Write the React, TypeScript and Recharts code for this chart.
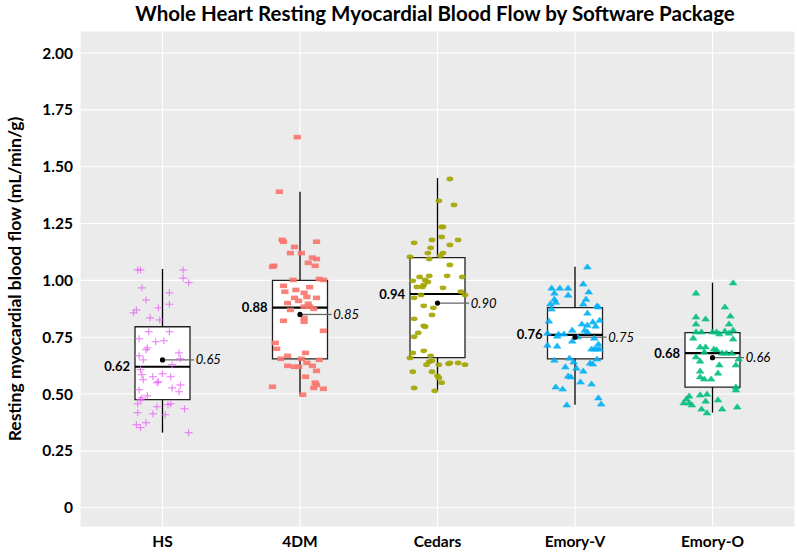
import React from "react";
import {
  ScatterChart,
  Scatter,
  XAxis,
  YAxis,
  CartesianGrid,
  ReferenceArea,
  ReferenceLine,
  ReferenceDot,
} from "recharts";

const FONT = "Lato, 'Open Sans', sans-serif";

const categories = ["HS", "4DM", "Cedars", "Emory-V", "Emory-O"];
const colors = ["#E76BF3", "#F8766D", "#A3A500", "#00B0F6", "#00BF7D"];
const yTicks = [0, 0.25, 0.5, 0.75, 1.0, 1.25, 1.5, 1.75, 2.0];

// box statistics
const medians = [0.62, 0.88, 0.94, 0.76, 0.68];
const means = [0.65, 0.85, 0.9, 0.75, 0.66];
const q1 = [0.475, 0.655, 0.66, 0.655, 0.53];
const q3 = [0.796, 1.0, 1.1, 0.88, 0.77];
const whiskerLow = [0.33, 0.497, 0.514, 0.453, 0.418];
const whiskerHigh = [1.05, 1.39, 1.45, 1.06, 0.99];

// jittered points: [horizontal jitter (category units), value]
const hsPoints: [number, number][] = [
  [-0.18, 1.046], [-0.16, 1.046], [0.15, 1.046], [0.15, 1.01], [0.19, 0.99],
  [-0.15, 0.967], [0.05, 0.945], [-0.12, 0.914], [0.05, 0.895], [-0.19, 0.87],
  [-0.21, 0.857], [-0.03, 0.879], [-0.09, 0.835], [-0.02, 0.826], [-0.1, 0.774],
  [0.05, 0.774], [-0.17, 0.743], [-0.05, 0.73], [0.01, 0.734], [-0.11, 0.703],
  [-0.12, 0.695], [0.12, 0.681], [-0.17, 0.668], [-0.14, 0.65], [0.13, 0.655],
  [0.07, 0.629], [-0.16, 0.607], [-0.15, 0.585], [-0.07, 0.576], [0.0, 0.589],
  [0.06, 0.576], [-0.04, 0.55], [-0.03, 0.554], [-0.14, 0.563], [0.07, 0.527],
  [0.13, 0.54], [0.12, 0.51], [-0.17, 0.519], [-0.16, 0.475], [-0.11, 0.492],
  [-0.15, 0.483], [-0.18, 0.457], [-0.04, 0.444], [0.04, 0.453], [0.06, 0.457],
  [0.16, 0.435], [-0.18, 0.418], [-0.07, 0.413], [0.02, 0.409], [-0.19, 0.365],
  [-0.12, 0.374], [-0.16, 0.352], [0.19, 0.33],
];
const fourDmPoints: [number, number][] = [
  [-0.02, 1.63], [-0.15, 1.39], [-0.13, 1.178], [-0.12, 1.17], [0.12, 1.17],
  [-0.04, 1.147], [-0.07, 1.12], [0.01, 1.12], [0.09, 1.1], [0.12, 1.094],
  [0.06, 1.077], [-0.19, 1.064], [-0.2, 1.06], [0.11, 1.064], [-0.05, 1.002],
  [0.14, 1.006], [0.17, 1.002], [-0.12, 0.976], [0.07, 0.97], [-0.11, 0.95],
  [-0.03, 0.958], [0.03, 0.945], [-0.04, 0.923], [0.05, 0.927], [0.12, 0.923],
  [-0.01, 0.91], [-0.09, 0.9], [0.06, 0.897], [0.03, 0.884], [0.07, 0.884],
  [-0.07, 0.87], [0.1, 0.875], [0.03, 0.835], [0.03, 0.818], [-0.12, 0.822],
  [0.17, 0.778], [-0.18, 0.725], [-0.17, 0.699], [0.04, 0.681], [-0.09, 0.668],
  [-0.14, 0.655], [0.01, 0.655], [0.14, 0.65], [0.05, 0.637], [0.09, 0.624],
  [-0.09, 0.624], [-0.04, 0.62], [-0.01, 0.62], [0.12, 0.602], [0.04, 0.576],
  [0.11, 0.55], [0.12, 0.54], [0.1, 0.527], [0.17, 0.523], [-0.2, 0.532],
  [0.02, 0.497],
];
const cedarsPoints: [number, number][] = [
  [0.09, 1.446], [0.01, 1.35], [0.12, 1.332], [0.03, 1.235], [0.04, 1.235],
  [0.03, 1.191], [-0.17, 1.165], [-0.04, 1.178], [0.15, 1.178], [0.09, 1.156],
  [-0.05, 1.143], [-0.07, 1.12], [0.04, 1.12], [0.02, 1.108], [-0.2, 1.103],
  [-0.06, 1.094], [0.09, 1.068], [0.07, 1.02], [0.18, 1.015], [-0.13, 1.015],
  [-0.06, 1.02], [-0.18, 0.998], [-0.09, 1.002], [-0.07, 0.993], [-0.1, 0.98],
  [-0.15, 0.971], [-0.11, 0.971], [0.04, 0.967], [0.17, 0.95], [0.2, 0.936],
  [-0.12, 0.936], [-0.17, 0.923], [-0.1, 0.888], [-0.03, 0.879], [-0.04, 0.848],
  [-0.17, 0.831], [-0.1, 0.8], [-0.09, 0.796], [-0.14, 0.769], [-0.17, 0.752],
  [-0.1, 0.69], [-0.18, 0.681], [-0.2, 0.659], [-0.05, 0.668], [-0.04, 0.646],
  [-0.06, 0.642], [-0.08, 0.629], [0.01, 0.629], [0.08, 0.633], [0.09, 0.637],
  [0.15, 0.637], [0.2, 0.629], [-0.18, 0.598], [-0.04, 0.598], [0.0, 0.58],
  [0.01, 0.571], [0.03, 0.55], [-0.17, 0.527], [-0.02, 0.514],
];
const emoryVPoints: [number, number][] = [
  [0.09, 1.06], [-0.17, 0.967], [-0.11, 0.967], [-0.05, 0.967], [0.06, 0.985],
  [-0.15, 0.945], [-0.05, 0.936], [0.1, 0.95], [-0.15, 0.918], [-0.14, 0.905],
  [0.08, 0.918], [-0.18, 0.897], [0.06, 0.897], [0.16, 0.888], [0.17, 0.884],
  [-0.17, 0.875], [0.09, 0.857], [-0.19, 0.822], [0.18, 0.826], [0.13, 0.818],
  [0.05, 0.809], [0.09, 0.804], [0.15, 0.8], [0.07, 0.782], [-0.02, 0.782],
  [0.09, 0.774], [-0.2, 0.769], [-0.12, 0.765], [-0.08, 0.765], [-0.13, 0.756],
  [0.14, 0.747], [-0.02, 0.734], [0.02, 0.752], [-0.13, 0.712], [-0.2, 0.716],
  [0.17, 0.721], [0.16, 0.699], [0.12, 0.699], [0.14, 0.699], [0.18, 0.699],
  [-0.15, 0.65], [-0.04, 0.659], [0.16, 0.655], [-0.01, 0.642], [0.11, 0.637],
  [0.13, 0.633], [-0.07, 0.62], [0.01, 0.615], [0.06, 0.602], [-0.05, 0.58],
  [-0.03, 0.576], [0.04, 0.554], [0.12, 0.545], [-0.14, 0.532], [-0.09, 0.523],
  [0.17, 0.484], [-0.06, 0.453], [0.19, 0.457],
];
const emoryOPoints: [number, number][] = [
  [0.15, 0.99], [-0.12, 0.945], [0.09, 0.884], [-0.12, 0.84], [-0.05, 0.831],
  [0.13, 0.844], [-0.12, 0.809], [0.12, 0.809], [-0.12, 0.774], [-0.08, 0.774],
  [0.0, 0.774], [0.03, 0.774], [0.09, 0.778], [0.15, 0.782], [0.05, 0.765],
  [0.12, 0.769], [-0.14, 0.747], [0.15, 0.743], [-0.09, 0.708], [-0.05, 0.708],
  [0.01, 0.699], [0.03, 0.695], [-0.06, 0.686], [0.07, 0.681], [0.1, 0.681],
  [0.14, 0.681], [-0.12, 0.664], [0.19, 0.655], [-0.09, 0.646], [0.05, 0.629],
  [0.17, 0.629], [-0.09, 0.602], [0.04, 0.593], [-0.09, 0.576], [-0.06, 0.567],
  [-0.01, 0.567], [0.17, 0.532], [0.17, 0.519], [-0.17, 0.492], [-0.19, 0.479],
  [-0.09, 0.497], [-0.04, 0.5], [-0.21, 0.462], [-0.17, 0.462], [-0.15, 0.453],
  [-0.05, 0.47], [0.04, 0.475], [0.18, 0.444], [-0.08, 0.435], [0.07, 0.435],
  [-0.04, 0.418],
];

const groups = [hsPoints, fourDmPoints, cedarsPoints, emoryVPoints, emoryOPoints];

const BOX_HALF = 0.2;

const toData = (pts: [number, number][], i: number) =>
  pts.map(([dx, y]) => ({ x: i + 1 + dx, y }));

const PlusShape = (props: any) => {
  const { cx, cy } = props;
  return (
    <g stroke={colors[0]} strokeWidth={1.1} opacity={0.85}>
      <line x1={cx - 4} x2={cx + 4} y1={cy} y2={cy} />
      <line x1={cx} x2={cx} y1={cy - 3.5} y2={cy + 3.5} />
    </g>
  );
};

const RectShape = (props: any) => {
  const { cx, cy } = props;
  return <rect x={cx - 3.6} y={cy - 2.3} width={7.2} height={4.6} fill={colors[1]} opacity={0.9} />;
};

const EllipseShape = (props: any) => {
  const { cx, cy } = props;
  return <ellipse cx={cx} cy={cy} rx={3.4} ry={2.4} fill={colors[2]} opacity={0.9} />;
};

const triangle = (color: string) => (props: any) => {
  const { cx, cy } = props;
  const pts = `${cx - 3.8},${cy + 2.3} ${cx + 3.8},${cy + 2.3} ${cx},${cy - 2.9}`;
  return <polygon points={pts} fill={color} opacity={0.9} strokeLinejoin="round" stroke={color} strokeWidth={0.6} />;
};

const shapes = [PlusShape, RectShape, EllipseShape, triangle(colors[3]), triangle(colors[4])];

const medianLabels = medians.map((m, i) => ({ x: i + 1 - BOX_HALF, y: m, text: m.toFixed(2) }));
const meanLabels = means.map((m, i) => ({ x: i + 1 + 0.235, y: m, text: m.toFixed(2) }));

const MedianText = (props: any) => (
  <text
    x={props.cx - 5}
    y={props.cy}
    dy="0.35em"
    textAnchor="end"
    fontFamily={FONT}
    fontWeight={700}
    fontSize={13}
    fill="#000"
  >
    {props.payload.text}
  </text>
);

const MeanText = (props: any) => (
  <text
    x={props.cx + 1}
    y={props.cy}
    dy="0.35em"
    textAnchor="start"
    fontFamily={FONT}
    fontStyle="italic"
    fontSize={13}
    fill="#000"
  >
    {props.payload.text}
  </text>
);

const App = () => {
  return (
    <div style={{ position: "absolute", left: 0, top: 0, width: 797, height: 552, background: "#fff" }}>
      <div
        style={{
          position: "absolute",
          left: 435,
          top: 13,
          transform: "translate(-50%, -50%)",
          whiteSpace: "nowrap",
          fontFamily: FONT,
          fontWeight: 700,
          fontSize: 20.5,
          color: "#000",
        }}
      >
        Whole Heart Resting Myocardial Blood Flow by Software Package
      </div>
      <div
        style={{
          position: "absolute",
          left: 14,
          top: 279,
          transform: "translate(-50%, -50%) rotate(-90deg)",
          whiteSpace: "nowrap",
          fontFamily: FONT,
          fontWeight: 700,
          fontSize: 17.5,
          color: "#000",
        }}
      >
        Resting myocardial blood flow (mL/min/g)
      </div>
      <ScatterChart width={797} height={552} margin={{ top: 31, right: 2, bottom: 0, left: 0 }}>
        <CartesianGrid fill="#EBEBEB" stroke="#FFFFFF" strokeWidth={1.1} />
        <XAxis
          type="number"
          dataKey="x"
          domain={[0.4, 5.6]}
          ticks={[1, 2, 3, 4, 5]}
          tickFormatter={(v: number) => categories[v - 1]}
          allowDataOverflow
          axisLine={false}
          tickLine={false}
          tickSize={0}
          tickMargin={9}
          height={25}
          tick={{ fill: "#000", fontSize: 15.5, fontWeight: 700, fontFamily: FONT }}
        />
        <YAxis
          type="number"
          dataKey="y"
          domain={[-0.085, 2.097]}
          ticks={yTicks}
          tickFormatter={(v: number) => (v === 0 ? "0" : v.toFixed(2))}
          allowDataOverflow
          axisLine={false}
          tickLine={false}
          tickSize={0}
          tickMargin={7}
          width={80}
          tick={{ fill: "#000", fontSize: 15.5, fontWeight: 700, fontFamily: FONT }}
        />
        {categories.map((c, i) => (
          <ReferenceLine
            key={`wh-${c}`}
            segment={[{ x: i + 1, y: q3[i] }, { x: i + 1, y: whiskerHigh[i] }]}
            stroke="#000"
            strokeWidth={1.3}
          />
        ))}
        {categories.map((c, i) => (
          <ReferenceLine
            key={`wl-${c}`}
            segment={[{ x: i + 1, y: whiskerLow[i] }, { x: i + 1, y: q1[i] }]}
            stroke="#000"
            strokeWidth={1.3}
          />
        ))}
        {categories.map((c, i) => (
          <ReferenceArea
            key={`box-${c}`}
            x1={i + 1 - BOX_HALF}
            x2={i + 1 + BOX_HALF}
            y1={q1[i]}
            y2={q3[i]}
            fill="#FFFFFF"
            fillOpacity={1}
            stroke="#222"
            strokeWidth={1.3}
          />
        ))}
        {categories.map((c, i) => (
          <ReferenceLine
            key={`med-${c}`}
            segment={[{ x: i + 1 - BOX_HALF, y: medians[i] }, { x: i + 1 + BOX_HALF, y: medians[i] }]}
            stroke="#000"
            strokeWidth={2.2}
          />
        ))}
        {groups.map((pts, i) => (
          <Scatter
            key={`pts-${categories[i]}`}
            data={toData(pts, i)}
            shape={shapes[i]}
            isAnimationActive={false}
          />
        ))}
        {categories.map((c, i) => (
          <ReferenceLine
            key={`mean-${c}`}
            segment={[{ x: i + 1, y: means[i] }, { x: i + 1 + 0.23, y: means[i] }]}
            stroke="#666"
            strokeWidth={1.3}
          />
        ))}
        {categories.map((c, i) => (
          <ReferenceDot key={`md-${c}`} x={i + 1} y={means[i]} r={2.6} fill="#000" stroke="none" />
        ))}
        <Scatter data={medianLabels} shape={MedianText} isAnimationActive={false} />
        <Scatter data={meanLabels} shape={MeanText} isAnimationActive={false} />
      </ScatterChart>
    </div>
  );
};

export default App;
